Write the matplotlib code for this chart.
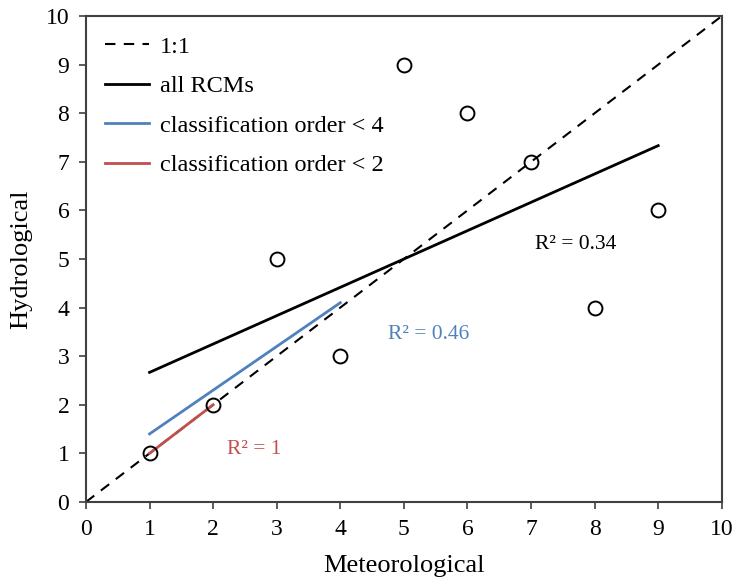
import numpy as np
import matplotlib
matplotlib.use('Agg')
import matplotlib.pyplot as plt

plt.rcParams['font.family'] = ['Liberation Serif', 'DejaVu Serif']

# ranks of the RCMs, meteorological vs hydrological
meteo = [1, 2, 3, 4, 5, 6, 7, 8, 9]
hydro = [1, 2, 5, 3, 9, 8, 7, 4, 6]

blue = '#4f81bd'
red = '#c0504d'
axcol = '#404040'

fig = plt.figure(figsize=(7.38, 5.85), dpi=100)
ax = fig.add_axes([0.1165, 0.142, 0.8615, 0.8305])

x = np.array(meteo, dtype=float)
y = np.array(hydro, dtype=float)


def fit(n):
    # linear fit on the first n points, returns x range, y values, r2
    xs, ys = x[:n], y[:n]
    k, b = np.polyfit(xs, ys, 1)
    r2 = np.corrcoef(xs, ys)[0, 1] ** 2
    xx = np.array([xs.min(), xs.max()])
    return xx, k * xx + b, r2


ax.plot([0, 10], [0, 10], '--', color='black', lw=1.5, dashes=(5, 4), label='1:1')
xx, yy, r2_all = fit(9)
ax.plot(xx, yy, color='black', lw=2, label='all RCMs')
xx, yy, r2_4 = fit(4)
ax.plot(xx, yy, color=blue, lw=2, label='classification order < 4')
xx, yy, r2_2 = fit(2)
ax.plot(xx, yy, color=red, lw=2, label='classification order < 2')

ax.plot(x, y, 'o', mfc='none', mec='black', ms=10, mew=1.4, zorder=5)

ax.text(7.06, 5.29, f'R² = {r2_all:.2f}', fontsize=15.5, color='black', va='center')
ax.text(4.75, 3.44, f'R² = {r2_4:.2f}', fontsize=15.5, color=blue, va='center')
ax.text(2.22, 1.07, f'R² = {r2_2:.0f}', fontsize=15.5, color=red, va='center')

ax.set_xlim(0, 10)
ax.set_ylim(0, 10)
ax.set_xticks(range(0, 11))
ax.set_yticks(range(0, 11))
ax.tick_params(direction='out', length=5, width=1.2, color=axcol, labelsize=17, pad=7)
for s in ax.spines.values():
    s.set_color(axcol)
    s.set_linewidth(1.5)

ax.set_xlabel('Meteorological', fontsize=19, labelpad=11)
ax.set_ylabel('Hydrological', fontsize=19, labelpad=10)

leg = ax.legend(loc='upper left', frameon=False, fontsize=17.5, handlelength=1.8,
                handletextpad=0.45, labelspacing=0.72, borderaxespad=0.5,
                borderpad=0.3)

fig.savefig('out.png', dpi=100)
